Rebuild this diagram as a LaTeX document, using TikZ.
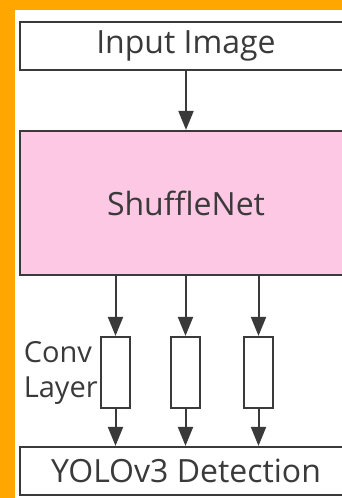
\documentclass[tikz,border=0pt]{standalone}
\usepackage{fontspec}
\setmainfont{Open Sans}
\usetikzlibrary{arrows.meta}
\definecolor{frameorange}{RGB}{255,166,0}
\definecolor{netpink}{RGB}{252,200,228}
\definecolor{inkgrey}{RGB}{58,58,58}
\begin{document}
\begin{tikzpicture}[x=1pt,y=-1pt,
  block/.style={draw=inkgrey,line width=2.2pt,minimum width=332pt,inner sep=0pt,
    text=inkgrey,font=\fontsize{32}{38}\selectfont},
  convbox/.style={draw=inkgrey,line width=2.2pt,fill=white,minimum width=29pt,
    minimum height=71pt,inner sep=0pt},
  arr/.style={draw=inkgrey,line width=2pt,-{Triangle[width=15pt,length=19pt]}}]
  \clip (0,0) rectangle (342,498);
  \fill[frameorange] (0,0) rectangle (342,498);
  \fill[white] (15,10) rectangle (342,498);
  \node[block,minimum height=48pt] (input) at (186,46) {Input Image};
  \node[block,fill=netpink,minimum height=144pt] (shuffle) at (186,203) {ShuffleNet};
  \node[convbox] (conv1) at (115.5,372.5) {};
  \node[convbox] (conv2) at (185.5,372.5) {};
  \node[convbox] (conv3) at (258.5,372.5) {};
  \node[block,minimum height=48pt] (yolo) at (186,471) {YOLOv3 Detection};
  \node[anchor=east,align=left,inner sep=2pt,text=inkgrey,
    font=\fontsize{29}{35}\selectfont] (convlabel) at (conv1.west) {Conv\\Layer};
  \draw[arr] (input) -- (shuffle);
  \foreach \c in {conv1,conv2,conv3} {
    \draw[arr] (\c |- shuffle.south) -- (\c.north);
    \draw[arr] (\c.south) -- (\c |- yolo.north);
  }
\end{tikzpicture}
\end{document}
